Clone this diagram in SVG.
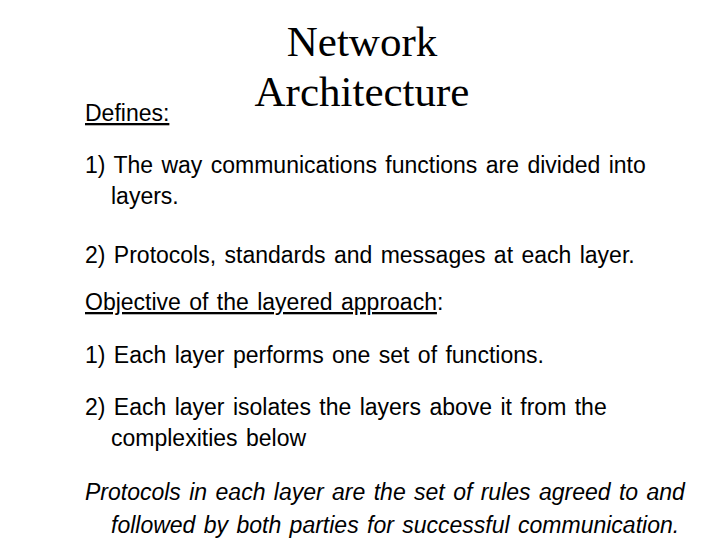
<svg xmlns="http://www.w3.org/2000/svg" width="720" height="540" viewBox="0 0 720 540">
<style>
.b{font-family:"Liberation Sans",Arial,sans-serif;font-size:23px;word-spacing:2px;fill:#000}
.t{font-family:"Liberation Serif","Times New Roman",serif;font-size:43px;fill:#000;text-anchor:middle}
.u{text-decoration:underline}
.i{font-style:italic}
</style>
<rect width="720" height="540" fill="#fff"/>
<g id="title">
<text class="t" x="362" y="56">Network</text>
<text class="t" x="362" y="106">Architecture</text>
</g>
<g id="body">
<text class="b u" x="85" y="121">Defines:</text>
<text class="b" x="85" y="173">1) The way communications functions are divided into</text>
<text class="b" x="111" y="204">layers.</text>
<text class="b" x="85" y="263">2) Protocols, standards and messages at each layer.</text>
<text class="b" x="85" y="310"><tspan class="u">Objective of the layered approach</tspan>:</text>
<text class="b" x="85" y="363">1) Each layer performs one set of functions.</text>
<text class="b" x="85" y="415">2) Each layer isolates the layers above it from the</text>
<text class="b" x="111" y="446">complexities below</text>
<text class="b i" x="85" y="500">Protocols in each layer are the set of rules agreed to and</text>
<text class="b i" x="111" y="533">followed by both parties for successful communication.</text>
</g>
</svg>
